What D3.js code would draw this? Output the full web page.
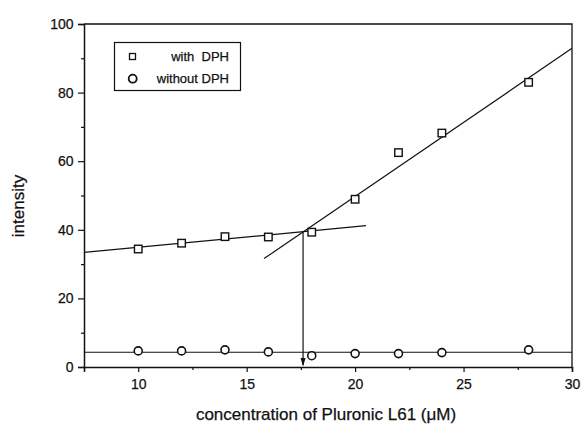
<!DOCTYPE html>
<html>
<head>
<meta charset="utf-8">
<script src="https://cdn.jsdelivr.net/npm/d3@7"></script>
<style>
  body { margin: 0; background: #fff; }
  svg text { font-family: "Liberation Sans", Arial, sans-serif; fill: #111; stroke: #111; stroke-width: 0.25px; }
</style>
</head>
<body>
<div id="chart"></div>
<script>
// concentrations (uM)
var conc = [10, 12, 14, 16, 18, 20, 22, 24, 28];
// intensity values
var withDPH = [34.4, 36.1, 38.0, 37.9, 39.3, 48.9, 62.5, 68.2, 83.0];
var withoutDPH = [4.7, 4.7, 5.0, 4.4, 3.3, 3.9, 3.9, 4.2, 5.0];

// fitted lines, [x, y] end points
var lowFit = [[7.5, 33.4], [20.5, 41.2]];
var highFit = [[15.8, 31.6], [30, 92.9]];
var baseFit = [[7.5, 4.3], [30, 4.3]];
var cmc = [17.6, 39.5];

var xTicks = [10, 15, 20, 25, 30];
var xMinor = [7.5, 12.5, 17.5, 22.5, 27.5];
var yTicks = [0, 20, 40, 60, 80, 100];
var yMinor = [10, 30, 50, 70, 90];

var width = 581, height = 427;
var margin = {top: 24, right: 9, bottom: 60, left: 84};

var svg = d3.select('#chart').append('svg')
    .attr('width', width)
    .attr('height', height);

var x = d3.scaleLinear().domain([7.5, 30]).range([margin.left, width - margin.right]);
var y = d3.scaleLinear().domain([0, 100]).range([height - margin.bottom, margin.top]);

// frame (top and right)
svg.append('path')
    .attr('d', 'M' + x(7.5) + ',' + y(100) + 'H' + x(30) + 'V' + y(0))
    .attr('fill', 'none')
    .attr('stroke', '#111')
    .attr('stroke-width', 1.3);

// x axis
var xAxis = svg.append('g')
    .attr('transform', 'translate(0,' + y(0) + ')')
    .call(d3.axisBottom(x).tickValues(xTicks).tickSize(5).tickFormat(d3.format('d')));
svg.append('g')
    .attr('transform', 'translate(0,' + y(0) + ')')
    .call(d3.axisBottom(x).tickValues(xMinor).tickSize(3).tickFormat(''))
    .select('.domain').remove();

// y axis
var yAxis = svg.append('g')
    .attr('transform', 'translate(' + x(7.5) + ',0)')
    .call(d3.axisLeft(y).tickValues(yTicks).tickSize(6));
svg.append('g')
    .attr('transform', 'translate(' + x(7.5) + ',0)')
    .call(d3.axisLeft(y).tickValues(yMinor).tickSize(3).tickFormat(''))
    .select('.domain').remove();

svg.selectAll('.domain').attr('stroke', '#111').attr('stroke-width', 1.5);
svg.selectAll('.tick line').attr('stroke', '#111').attr('stroke-width', 1.2);
xAxis.selectAll('text').attr('font-size', '14px').attr('dy', '1.0em');
yAxis.selectAll('text').attr('font-size', '14px').attr('dx', '-0.1em');

// axis titles
svg.append('text')
    .attr('x', 326)
    .attr('y', 420)
    .attr('text-anchor', 'middle')
    .attr('font-size', '17px')
    .text('concentration of Pluronic L61 (\u03bcM)');

svg.append('text')
    .attr('transform', 'translate(24,206) rotate(-90)')
    .attr('text-anchor', 'middle')
    .attr('font-size', '17px')
    .text('intensity');

// fit lines
var line = d3.line()
    .x(function (d) { return x(d[0]); })
    .y(function (d) { return y(d[1]); });

[lowFit, highFit, baseFit].forEach(function (seg) {
    svg.append('path')
        .datum(seg)
        .attr('d', line)
        .attr('fill', 'none')
        .attr('stroke', '#111')
        .attr('stroke-width', 1.2);
});

// arrow down to the break point
svg.append('path')
    .datum([cmc, [cmc[0], 0.6]])
    .attr('d', line)
    .attr('stroke', '#111')
    .attr('stroke-width', 1.2);
svg.append('path')
    .attr('d', 'M' + (x(cmc[0]) - 2.5) + ',' + (y(0) - 9) + 'L' + x(cmc[0]) + ',' + (y(0) - 0.5) + 'L' + (x(cmc[0]) + 2.5) + ',' + (y(0) - 9) + 'Z')
    .attr('fill', '#111');

// points
var sq = 7.5;
svg.selectAll('.sq')
    .data(conc)
    .enter().append('rect')
    .attr('class', 'sq')
    .attr('x', function (d) { return x(d) - sq / 2; })
    .attr('y', function (d, i) { return y(withDPH[i]) - sq / 2; })
    .attr('width', sq)
    .attr('height', sq)
    .attr('fill', '#fff')
    .attr('stroke', '#111')
    .attr('stroke-width', 1.4);

svg.selectAll('.ci')
    .data(conc)
    .enter().append('circle')
    .attr('class', 'ci')
    .attr('cx', function (d) { return x(d); })
    .attr('cy', function (d, i) { return y(withoutDPH[i]); })
    .attr('r', 4)
    .attr('fill', '#fff')
    .attr('stroke', '#111')
    .attr('stroke-width', 1.6);

// legend
var lg = svg.append('g');
lg.append('rect')
    .attr('x', 114.5).attr('y', 42.5)
    .attr('width', 126).attr('height', 48)
    .attr('fill', '#fff')
    .attr('stroke', '#111')
    .attr('stroke-width', 1.2);
lg.append('rect')
    .attr('x', 129.5).attr('y', 53.5)
    .attr('width', 6).attr('height', 6)
    .attr('fill', 'none').attr('stroke', '#111').attr('stroke-width', 1.3);
lg.append('circle')
    .attr('cx', 132.7).attr('cy', 78.7).attr('r', 4)
    .attr('fill', 'none').attr('stroke', '#111').attr('stroke-width', 1.8);
lg.append('text')
    .attr('x', 229).attr('y', 61)
    .attr('text-anchor', 'end')
    .attr('font-size', '13px')
    .text('with  DPH').style('white-space', 'pre');
lg.append('text')
    .attr('x', 229).attr('y', 83)
    .attr('text-anchor', 'end')
    .attr('font-size', '13px')
    .text('without DPH');
</script>
</body>
</html>
